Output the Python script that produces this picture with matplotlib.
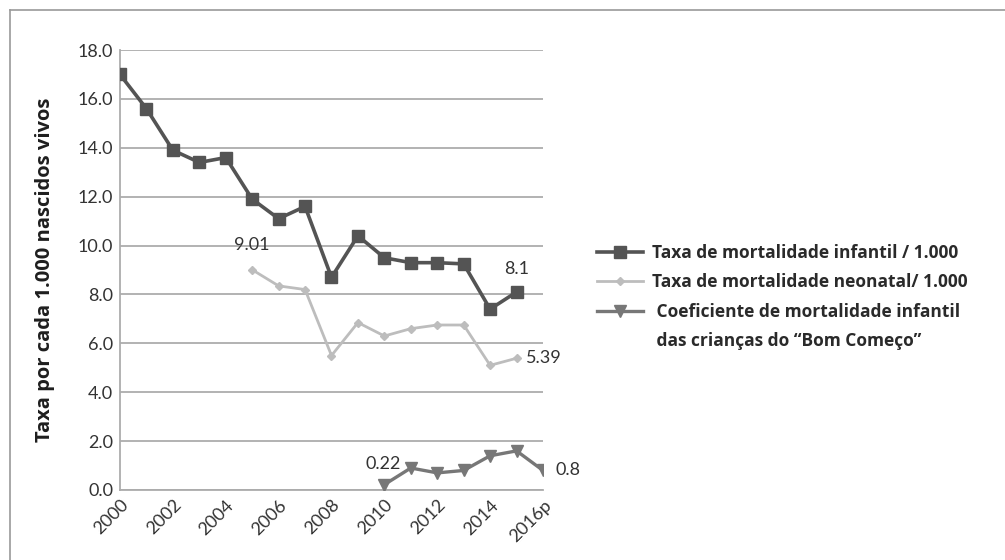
import matplotlib.pyplot as plt
from matplotlib.lines import Line2D

# data
years_infantil = list(range(2000, 2016))
infantil = [17.0, 15.6, 13.9, 13.4, 13.6, 11.9, 11.1, 11.6, 8.7, 10.4,
            9.5, 9.3, 9.3, 9.25, 7.4, 8.1]

years_neonatal = list(range(2005, 2016))
neonatal = [9.01, 8.35, 8.2, 5.5, 6.85, 6.3, 6.6, 6.75, 6.75, 5.1, 5.39]

years_bom = list(range(2010, 2017))
bom_comeco = [0.22, 0.9, 0.7, 0.8, 1.4, 1.6, 0.8]

tick_years = list(range(2000, 2017, 2))
tick_labels = ["2000", "2002", "2004", "2006", "2008", "2010", "2012", "2014", "2016p"]
y_ticks = [0, 2, 4, 6, 8, 10, 12, 14, 16, 18]

labels = [
    "Taxa de mortalidade infantil / 1.000",
    "Taxa de mortalidade neonatal/ 1.000",
    " Coeficiente de mortalidade infantil",
    " das crianças do \u201cBom Começo\u201d",
]

c_inf = "#545454"
c_neo = "#bdbdbd"
c_bom = "#777777"
c_grid = "#acacac"
c_text = "#333333"

fig = plt.figure(figsize=(10.05, 5.6), dpi=100)
ax = fig.add_axes([0.1194, 0.125, 0.4209, 0.7857])

h1, = ax.plot(years_infantil, infantil, color=c_inf, lw=2.6, marker="s", ms=8, zorder=3)
h2, = ax.plot(years_neonatal, neonatal, color=c_neo, lw=2.0, marker="D", ms=4.5, zorder=3)
h3, = ax.plot(years_bom, bom_comeco, color=c_bom, lw=2.4, marker="v", ms=8, zorder=3)
blank = Line2D([], [], color="none")

# value labels
tkw = dict(fontsize=13, color=c_text, family=["Lato", "DejaVu Sans"])
ax.annotate(f"{neonatal[0]:.2f}", (years_neonatal[0], neonatal[0]),
            xytext=(0, 12), textcoords="offset points", ha="center", va="bottom", **tkw)
ax.annotate(f"{infantil[-1]:.1f}", (years_infantil[-1], infantil[-1]),
            xytext=(0, 11), textcoords="offset points", ha="center", va="bottom", **tkw)
ax.annotate(f"{neonatal[-1]:.2f}", (years_neonatal[-1], neonatal[-1]),
            xytext=(7, 0), textcoords="offset points", ha="left", va="center", **tkw)
ax.annotate(f"{bom_comeco[0]:.2f}", (years_bom[0], bom_comeco[0]),
            xytext=(-1, 9), textcoords="offset points", ha="center", va="bottom", **tkw)
ax.annotate(f"{bom_comeco[-1]:.1f}", (years_bom[-1], bom_comeco[-1]),
            xytext=(9, 0), textcoords="offset points", ha="left", va="center", **tkw)

ax.set_xlim(2000, 2016)
ax.set_ylim(0, 18)
ax.set_yticks(y_ticks)
ax.set_yticklabels([f"{v:.1f}" for v in y_ticks], **tkw)
ax.set_xticks(tick_years)
ax.set_xticklabels(tick_labels, rotation=45, ha="right", rotation_mode="anchor", **tkw)
ax.tick_params(length=0, pad=5)
ax.grid(axis="y", color=c_grid, lw=1.3)
ax.set_axisbelow(True)
for s in ["top", "right"]:
    ax.spines[s].set_visible(False)
for s in ["left", "bottom"]:
    ax.spines[s].set_color(c_grid)
    ax.spines[s].set_linewidth(1.3)

ax.set_ylabel("Taxa por cada 1.000 nascidos vivos", fontsize=14.5, fontweight="bold",
              color="#1e1e1e", family=["Open Sans", "DejaVu Sans"], labelpad=16)

leg = ax.legend([h1, h2, h3, blank], labels, loc="upper left",
                bbox_to_anchor=(0.578, 0.592), bbox_transform=fig.transFigure,
                frameon=False,
                prop={"family": ["Open Sans", "DejaVu Sans"], "size": 12.5, "weight": "bold"},
                handlelength=2.7, handletextpad=0.5, labelspacing=0.65)
for t in leg.get_texts():
    t.set_color("#2a2a2a")

# partial frame around the figure (top and left only, as in the image)
fig.add_artist(Line2D([0.0103, 1.0], [0.982, 0.982], transform=fig.transFigure,
                      color="#9a9a9a", lw=1.2))
fig.add_artist(Line2D([0.0103, 0.0103], [0.0, 0.982], transform=fig.transFigure,
                      color="#9a9a9a", lw=1.2))

fig.savefig("out.png", dpi=100)
